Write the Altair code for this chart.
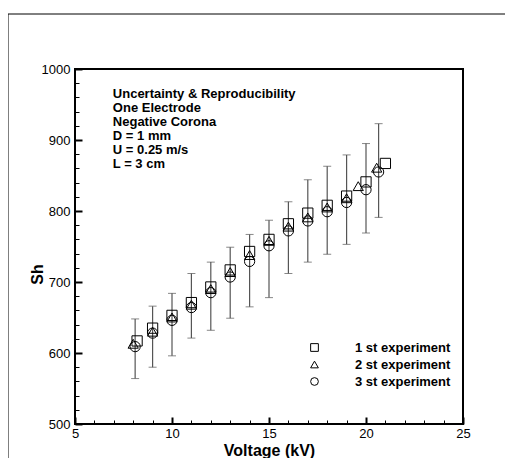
import altair as alt
import pandas as pd

# ---- data ----
exp_names = ["1 st experiment", "2 st experiment", "3 st experiment"]

v1 = [8.2, 9, 10, 11, 12, 13, 14, 15, 16, 17, 18, 19, 20, 21]
sh1 = [617, 635, 653, 671, 693, 717, 743, 760, 782, 797, 808, 821, 841, 867]

v2 = [8.0, 9, 10, 11, 12, 13, 14, 15, 16, 17, 18, 19, 19.6, 20.55]
sh2 = [613, 630, 650, 668, 690, 714, 738, 758, 778, 791, 805, 818, 835, 861]

v3 = [8.1, 9, 10, 11, 12, 13, 14, 15, 16, 17, 18, 19, 20, 20.65]
sh3 = [609, 628, 646, 664, 685, 707, 729, 751, 772, 786, 799, 812, 830, 855]

err_lo = [564, 580, 596, 621, 632, 649, 665, 678, 712, 728, 739, 753, 769, 791]
err_hi = [648, 666, 684, 712, 728, 749, 767, 787, 813, 844, 863, 879, 895, 923]

x_major = [5, 10, 15, 20, 25]
x_minor = list(range(5, 26))
y_major = [500, 600, 700, 800, 900, 1000]
y_minor = list(range(500, 1001, 20))

note_lines = ["Uncertainty & Reproducibility", "One Electrode", "Negative Corona",
              "D = 1 mm", "U = 0.25 m/s", "L = 3 cm"]
note_x = [6.95]
note_y = [973]

FONT = "Liberation Sans"

pts = pd.DataFrame({
    "v": v1 + v2 + v3,
    "sh": sh1 + sh2 + sh3,
    "exp": [exp_names[0]] * len(v1) + [exp_names[1]] * len(v2) + [exp_names[2]] * len(v3),
})
err = pd.DataFrame({"v": v3, "lo": err_lo, "hi": err_hi})
note = pd.DataFrame({"t": ["\n".join(note_lines)], "xx": note_x, "yy": note_y})

xs = alt.Scale(domain=[5, 25], nice=False, zero=False)
ys = alt.Scale(domain=[500, 1000], nice=False, zero=False)

x_lab_axis = alt.Axis(values=x_major, tickSize=0, domain=False, grid=False, format="d",
                      labelFontSize=13, labelPadding=3, labelColor="black",
                      title="Voltage (kV)", titleFontSize=16, titleFontWeight="bold",
                      titlePadding=2, titleColor="black", labelFlush=False)
y_lab_axis = alt.Axis(values=y_major, tickSize=0, domain=False, grid=False, format="d",
                      labelFontSize=13, labelPadding=5, labelColor="black",
                      title="Sh", titleFontSize=16, titleFontWeight="bold",
                      titleColor="black", titleX=-30, titleY=205, labelFlush=False)

x_tick_axis = alt.Axis(orient="top", offset=-355, values=x_minor, labels=False,
                       domain=False, grid=False, title=None, tickColor="black",
                       tickSize={"condition": {"test": "datum.value % 5 === 0", "value": 7}, "value": 4},
                       tickWidth={"condition": {"test": "datum.value % 5 === 0", "value": 2}, "value": 1})
y_tick_axis = alt.Axis(orient="right", offset=-388, values=y_minor, labels=False,
                       domain=False, grid=False, title=None, tickColor="black",
                       tickSize={"condition": {"test": "datum.value % 100 === 0", "value": 7}, "value": 4},
                       tickWidth={"condition": {"test": "datum.value % 100 === 0", "value": 2}, "value": 1})

bars = alt.Chart(err).mark_rule(color="#555555", strokeWidth=1.2).encode(
    x=alt.X("v:Q", scale=xs, axis=x_lab_axis),
    y=alt.Y("lo:Q", scale=ys, axis=y_lab_axis),
    y2="hi:Q",
)
cap_lo = alt.Chart(err).mark_tick(orient="horizontal", size=8, thickness=1, color="#555555").encode(
    x=alt.X("v:Q", scale=xs, axis=None),
    y=alt.Y("lo:Q", scale=ys, axis=None),
)
cap_hi = alt.Chart(err).mark_tick(orient="horizontal", size=8, thickness=1, color="#555555").encode(
    x=alt.X("v:Q", scale=xs, axis=None),
    y=alt.Y("hi:Q", scale=ys, axis=None),
)
points = alt.Chart(pts).mark_point(filled=False, color="black", strokeWidth=1, opacity=1, size=105).encode(
    x=alt.X("v:Q", scale=xs, axis=x_tick_axis),
    y=alt.Y("sh:Q", scale=ys, axis=y_tick_axis),
    shape=alt.Shape("exp:N", scale=alt.Scale(domain=exp_names, range=["square", "triangle-up", "circle"]),
                    legend=alt.Legend(title=None, orient="none", legendX=233, legendY=272,
                                      symbolSize=60, symbolStrokeColor="black", symbolFillColor="transparent",
                                      symbolStrokeWidth=1, symbolType="circle",
                                      labelFontSize=13, labelFontWeight="bold", labelFont=FONT,
                                      labelColor="black", labelOffset=34, rowPadding=3, padding=0)),
)
text = alt.Chart(note).mark_text(align="left", baseline="top", lineBreak="\n", lineHeight=14,
                                 fontSize=13, fontWeight="bold", color="black", font=FONT).encode(
    x=alt.X("xx:Q", scale=xs, axis=None),
    y=alt.Y("yy:Q", scale=ys, axis=None),
    text="t:N",
)

border = alt.Chart(note).mark_rect(fill="transparent", stroke="black", strokeWidth=1).encode(
    x=alt.value(-67), x2=alt.value(600), y=alt.value(-55), y2=alt.value(600)
)

chart = alt.layer(bars, points, cap_lo, cap_hi, text, border).resolve_axis(
    x="independent", y="independent"
).properties(
    width=388, height=355,
    padding={"left": 67, "top": 61, "right": 42, "bottom": 34},
    autosize=alt.AutoSizeParams(type="none"),
).configure(font=FONT).configure_view(stroke="black", strokeWidth=2)

chart.save("out.html", embed_options={"renderer": "svg", "actions": False})
